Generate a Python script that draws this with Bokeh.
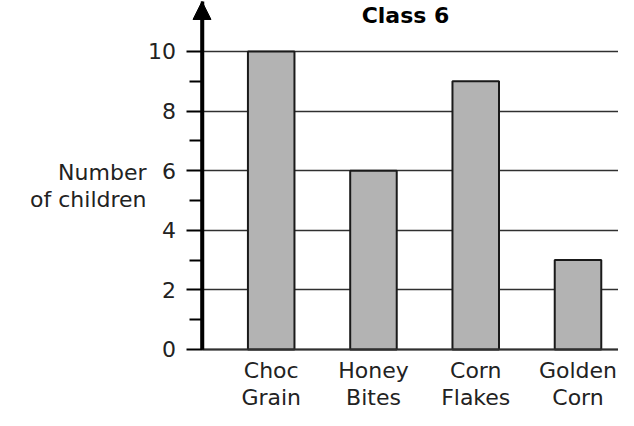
from bokeh.plotting import figure
from bokeh.models import Range1d, FixedTicker, Label, Arrow, NormalHead
from bokeh.embed import file_html
from bokeh.resources import INLINE

# ---- data ----
categories = ["Choc Grain", "Honey Bites", "Corn Flakes", "Golden Corn"]
children = [10, 6, 9, 3]
y_ticks = [0, 2, 4, 6, 8, 10]
y_minor_ticks = [1, 3, 5, 7, 9]
title_text = "Class 6"
y_label = "Number\nof children"

positions = list(range(1, len(categories) + 1))
tick_labels = {pos: c.replace(" ", "\n") for pos, c in zip(positions, categories)}

# ---- layout (frame covers whole figure; axes are placed at fixed locations) ----
W, H = 618, 410
X_START, X_END = -1.647, 4.396
X_AXIS = 0.3234
Y_START, Y_END = -2.047, 11.711
ARROW_TOP = 11.678
FONT = "DejaVu Sans"
INK = "#222222"

p = figure(width=W, height=H, output_backend="svg", toolbar_location=None,
           x_range=Range1d(X_START, X_END), y_range=Range1d(Y_START, Y_END),
           min_border=0)
p.outline_line_color = None
p.background_fill_color = "white"
p.border_fill_color = "white"
p.xgrid.visible = False

# horizontal grid lines from the y axis to the right edge
g = p.ygrid[0]
g.ticker = FixedTicker(ticks=y_ticks)
g.grid_line_color = "#303030"
g.grid_line_width = 1.6
g.cross_bounds = (X_AXIS, X_END)

# y axis
yax = p.yaxis[0]
yax.fixed_location = X_AXIS
yax.bounds = (0, ARROW_TOP)
yax.ticker = FixedTicker(ticks=y_ticks, minor_ticks=y_minor_ticks)
yax.axis_line_width = 3.5
yax.axis_line_color = "black"
yax.major_tick_in = 0
yax.major_tick_out = 16
yax.minor_tick_in = 0
yax.minor_tick_out = 13
yax.major_tick_line_width = 2
yax.minor_tick_line_width = 2
yax.major_tick_line_color = "black"
yax.minor_tick_line_color = "black"
yax.major_label_standoff = 10
yax.major_label_text_font = FONT
yax.major_label_text_font_size = "22px"
yax.major_label_text_color = INK

# x axis (baseline + category labels)
xax = p.xaxis[0]
xax.fixed_location = 0
xax.bounds = (X_AXIS, X_END)
xax.ticker = FixedTicker(ticks=positions)
xax.major_label_overrides = tick_labels
xax.axis_line_width = 2
xax.axis_line_color = "#303030"
xax.major_tick_line_color = None
xax.minor_tick_line_color = None
xax.major_label_standoff = 3
xax.major_label_text_font = FONT
xax.major_label_text_font_size = "22px"
xax.major_label_text_line_height = 1.05
xax.major_label_text_color = INK

# bars
p.vbar(x=positions, top=children, width=0.455, bottom=0,
       fill_color="#b3b3b3", line_color="#1a1a1a", line_width=2)

# arrow on y axis
p.add_layout(Arrow(end=NormalHead(size=18, fill_color="black", line_color="black",
                                  line_width=1),
                   x_start=X_AXIS, y_start=0, x_end=X_AXIS, y_end=ARROW_TOP,
                   line_width=3.5, line_color="black"))

# y axis label
p.add_layout(Label(x=X_AXIS, y=6, x_offset=-55.5, y_offset=11, text=y_label,
                   text_align="right", text_baseline="top",
                   text_font=FONT, text_font_size="22px",
                   text_line_height=1.1, text_color=INK))

# title
p.add_layout(Label(x=405, y=H - 14.5, x_units="screen", y_units="screen",
                   text=title_text, text_align="center", text_baseline="middle",
                   text_font=FONT, text_font_size="22px", text_font_style="bold",
                   text_color="black"))

open("out.html", "w").write(file_html(p, INLINE))
